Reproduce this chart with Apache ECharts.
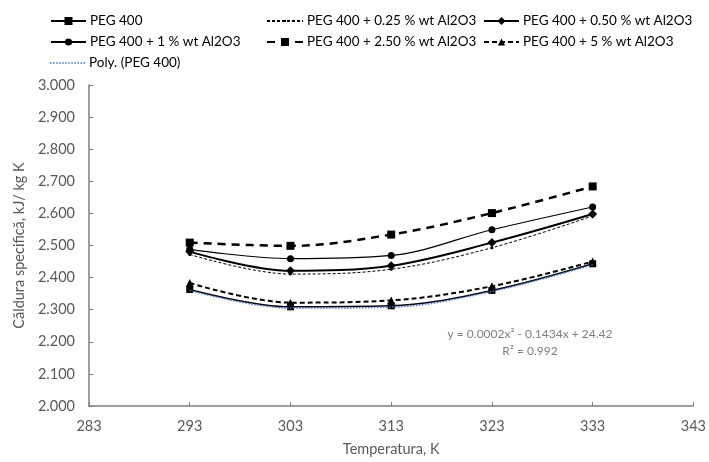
<!DOCTYPE html>
<html>
<head>
<meta charset="utf-8">
<script src="https://cdn.jsdelivr.net/npm/echarts@6/dist/echarts.min.js"></script>
<style>
  html, body { margin: 0; padding: 0; background: #fff; }
  #chart { width: 709px; height: 462px; }
</style>
</head>
<body>
<div id="chart"></div>
<script>
// temperatures (K)
const temps = [293, 303, 313, 323, 333];

// specific heat, kJ/kg K
const peg400 = [2.363, 2.309, 2.312, 2.360, 2.443];
const peg025 = [2.472, 2.411, 2.426, 2.493, 2.592];
const peg050 = [2.481, 2.421, 2.437, 2.509, 2.598];
const peg1 = [2.488, 2.459, 2.469, 2.549, 2.620];
const peg250 = [2.509, 2.499, 2.534, 2.601, 2.684];
const peg5 = [2.383, 2.322, 2.329, 2.373, 2.450];
// trendline
const polyPeg = [2.360, 2.305, 2.308, 2.357, 2.440];

const names = [
    'PEG 400',
    'PEG 400 + 0.25 % wt Al2O3',
    'PEG 400 + 0.50 % wt Al2O3',
    'PEG 400 + 1 % wt Al2O3',
    'PEG 400 + 2.50 % wt Al2O3',
    'PEG 400 + 5 % wt Al2O3',
    'Poly. (PEG 400)'
];

const pairs = (vals) => temps.map((t, i) => [t, vals[i]]);

const font = 'Lato, "Open Sans", sans-serif';
const textGray = '#595959';
const axisGray = '#7f7f7f';

// dotted line icon for the trendline entry
let dots = '';
for (let x = 0; x < 35; x += 3) dots += 'M' + x + ' 0h1.5v1.5h-1.5z';

const myChart = echarts.init(document.getElementById('chart'));

// one legend per entry so each keeps its own marker size and place
const legendAt = (name, left, rowY, w, h, extra) => Object.assign({
    data: [name],
    left: left,
    top: rowY - 9,
    padding: 0,
    itemWidth: w,
    itemHeight: h,
    itemGap: 0,
    textStyle: { fontFamily: font, fontSize: 13.5, color: '#000', height: 18, lineHeight: 18, padding: [0, 0, 0, -1] }
}, extra || {});

const lineSeries = (name, data, opts) => Object.assign({
    name: name,
    type: 'line',
    smooth: 0.35,
    data: pairs(data),
    symbolSize: 7,
    color: '#000',
    lineStyle: { color: '#000', width: 1.5 },
    itemStyle: { color: '#000' }
}, opts);

const option = {
    animation: false,
    backgroundColor: '#fff',
    legend: [
        legendAt(names[0], 50, 21, 35, 10),
        legendAt(names[3], 50, 42, 35, 9),
        legendAt(names[6], 50, 63, 35, 1.5, {
            data: [{ name: names[6], icon: 'path://' + dots }],
            symbolKeepAspect: false,
            itemStyle: { borderWidth: 0 }
        }),
        legendAt(names[1], 266, 21, 36, 3),
        legendAt(names[4], 266, 42, 36, 10),
        legendAt(names[2], 483, 21, 35, 10),
        legendAt(names[5], 483, 42, 35, 9)
    ],
    grid: { left: 89, right: 14, top: 85, bottom: 54 },
    xAxis: {
        type: 'value',
        min: 283,
        max: 343,
        interval: 10,
        name: 'Temperatura, K',
        nameLocation: 'middle',
        nameGap: 36,
        nameTextStyle: { fontFamily: font, fontSize: 14.5, color: textGray },
        axisLine: { lineStyle: { color: axisGray, width: 1.5 } },
        axisTick: { inside: true, length: 4, lineStyle: { color: axisGray } },
        axisLabel: { fontFamily: font, fontSize: 14.5, color: textGray, margin: 13 },
        splitLine: { show: false }
    },
    yAxis: {
        type: 'value',
        min: 2,
        max: 3,
        interval: 0.1,
        name: 'Căldura specifică, kJ/ kg K',
        nameLocation: 'middle',
        nameGap: 61,
        nameTextStyle: { fontFamily: font, fontSize: 14.5, color: textGray },
        axisLine: { show: true, lineStyle: { color: axisGray, width: 1.5 } },
        axisTick: { show: true, inside: true, length: 4, lineStyle: { color: axisGray } },
        axisLabel: {
            fontFamily: font, fontSize: 14.5, color: textGray, margin: 14,
            formatter: (v) => v.toFixed(3)
        },
        splitLine: { show: false }
    },
    graphic: [
        {
            type: 'text', x: 530, y: 334,
            style: {
                text: 'y = 0.0002x² - 0.1434x + 24.42', fontFamily: font, fontSize: 12,
                fill: '#7f7f7f', align: 'center', verticalAlign: 'middle'
            }
        },
        {
            type: 'text', x: 530, y: 351,
            style: {
                text: 'R² = 0.992', fontFamily: font, fontSize: 12,
                fill: '#7f7f7f', align: 'center', verticalAlign: 'middle'
            }
        }
    ],
    series: [
        lineSeries(names[0], peg400, { symbol: 'rect', symbolSize: 7, z: 3 }),
        lineSeries(names[1], peg025, {
            symbol: 'circle', symbolSize: 3,
            lineStyle: { color: '#000', width: 1, type: [3, 2] }
        }),
        lineSeries(names[2], peg050, {
            symbol: 'diamond', symbolSize: 9,
            lineStyle: { color: '#000', width: 2 }
        }),
        lineSeries(names[3], peg1, {
            symbol: 'circle', symbolSize: 7,
            lineStyle: { color: '#000', width: 1.2 }
        }),
        lineSeries(names[4], peg250, {
            symbol: 'rect', symbolSize: 8,
            lineStyle: { color: '#000', width: 2.5, type: [8, 6] }
        }),
        lineSeries(names[5], peg5, {
            symbol: 'triangle', symbolSize: 8,
            lineStyle: { color: '#000', width: 2, type: [5, 3] }
        }),
        lineSeries(names[6], polyPeg, {
            symbol: 'none', showSymbol: false,
            color: '#4472C4',
            itemStyle: { color: '#4472C4' },
            lineStyle: { color: '#4472C4', width: 1.5, type: [1.5, 1.5] },
            z: 4
        })
    ]
};

myChart.setOption(option);
window.addEventListener('resize', () => myChart.resize());
</script>
</body>
</html>
